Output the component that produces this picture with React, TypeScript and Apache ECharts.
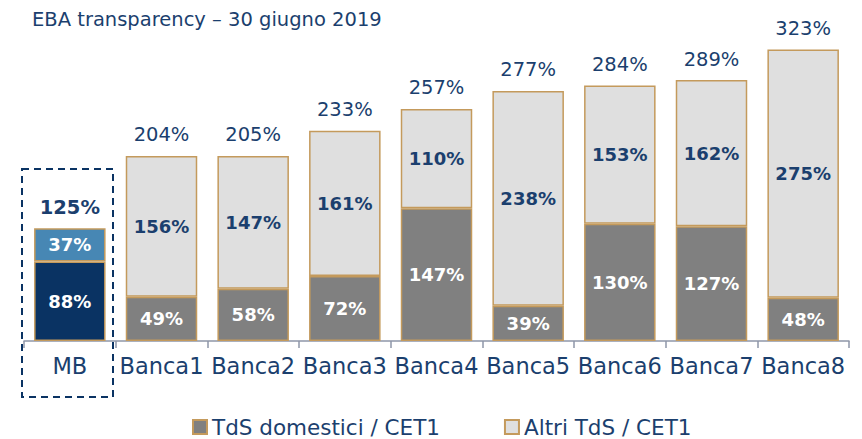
import React, { useEffect, useRef } from "react";
import * as echarts from "echarts";

const categories = ["MB", "Banca1", "Banca2", "Banca3", "Banca4", "Banca5", "Banca6", "Banca7", "Banca8"];
const domestic = [88, 49, 58, 72, 147, 39, 130, 127, 48];
const others = [37, 156, 147, 161, 110, 238, 153, 162, 275];
const totals = [125, 204, 205, 233, 257, 277, 284, 289, 323];
const seriesNames = ["TdS domestici / CET1", "Altri TdS / CET1"];
const titleText = "EBA transparency \u2013 30 giugno 2019";

const NAVY = "#1B3F6E";
const GOLD = "#C49A5C";
const GREY = "#808080";
const LIGHT = "#DFDFDF";
const MB_DARK = "#0A3363";
const MB_LIGHT = "#4787B4";
const FONT = "DejaVu Sans";

export default function App() {
  const ref = useRef<HTMLDivElement>(null);
  useEffect(() => {
    if (!ref.current) return;
    const chart = echarts.init(ref.current, undefined, { renderer: "svg" });
    chart.setOption({
      animation: false,
      backgroundColor: "#ffffff",
      textStyle: { fontFamily: FONT },
      title: {
        text: titleText,
        left: 27,
        top: 4,
        textStyle: { fontFamily: FONT, fontSize: 19.5, fontWeight: "normal", color: NAVY },
      },
      legend: {
        data: seriesNames,
        top: 411,
        left: 187,
        itemGap: 64,
        itemWidth: 14,
        itemHeight: 14,
        icon: "rect",
        textStyle: { fontFamily: FONT, fontSize: 21.5, color: NAVY },
      },
      grid: { left: 24, right: 13, top: 25, bottom: 98 },
      xAxis: {
        type: "category",
        data: categories,
        axisLine: { lineStyle: { color: "#8E96A8", width: 1.5 } },
        axisTick: { show: true, length: 7, lineStyle: { color: "#8E96A8", width: 1.5 } },
        axisLabel: { fontFamily: FONT, fontSize: 22.5, color: NAVY, margin: 13, interval: 0 },
      },
      yAxis: { type: "value", min: 0, max: 350, show: false, splitLine: { show: false } },
      series: [
        {
          name: seriesNames[0],
          type: "bar",
          stack: "s",
          barCategoryGap: "22%",
          itemStyle: { color: GREY, borderColor: GOLD, borderWidth: 1.5 },
          label: {
            show: true,
            position: "inside",
            fontFamily: FONT,
            fontSize: 18,
            fontWeight: "bold",
            color: "#ffffff",
            formatter: (p: any) => p.value + "%",
          },
          data: domestic.map((v, i) =>
            i === 0 ? { value: v, itemStyle: { color: MB_DARK } } : { value: v }
          ),
        },
        {
          name: seriesNames[1],
          type: "bar",
          stack: "s",
          itemStyle: { color: LIGHT, borderColor: GOLD, borderWidth: 1.5 },
          label: {
            show: true,
            position: "inside",
            fontFamily: FONT,
            fontSize: 18,
            fontWeight: "bold",
            color: NAVY,
            formatter: (p: any) => p.value + "%",
          },
          data: others.map((v, i) =>
            i === 0
              ? { value: v, itemStyle: { color: MB_LIGHT }, label: { color: "#ffffff" } }
              : { value: v }
          ),
        },
        {
          name: "Totale",
          type: "bar",
          stack: "s",
          itemStyle: { color: "transparent" },
          label: {
            show: true,
            position: "top",
            distance: 11,
            fontFamily: FONT,
            fontSize: 19.5,
            color: NAVY,
            formatter: (p: any) => totals[p.dataIndex] + "%",
          },
          data: totals.map((v, i) =>
            i === 0 ? { value: 0, label: { fontWeight: "bold" } } : { value: 0 }
          ),
        },
      ],
      graphic: [
        {
          type: "rect",
          shape: { x: 22, y: 169, width: 91, height: 228 },
          style: { fill: "none", stroke: MB_DARK, lineWidth: 2, lineDash: [7, 5] },
          z: 10,
        },
      ],
    });
    return () => chart.dispose();
  }, []);
  return <div ref={ref} style={{ position: "fixed", left: 0, top: 0, width: 862, height: 439 }} />;
}
